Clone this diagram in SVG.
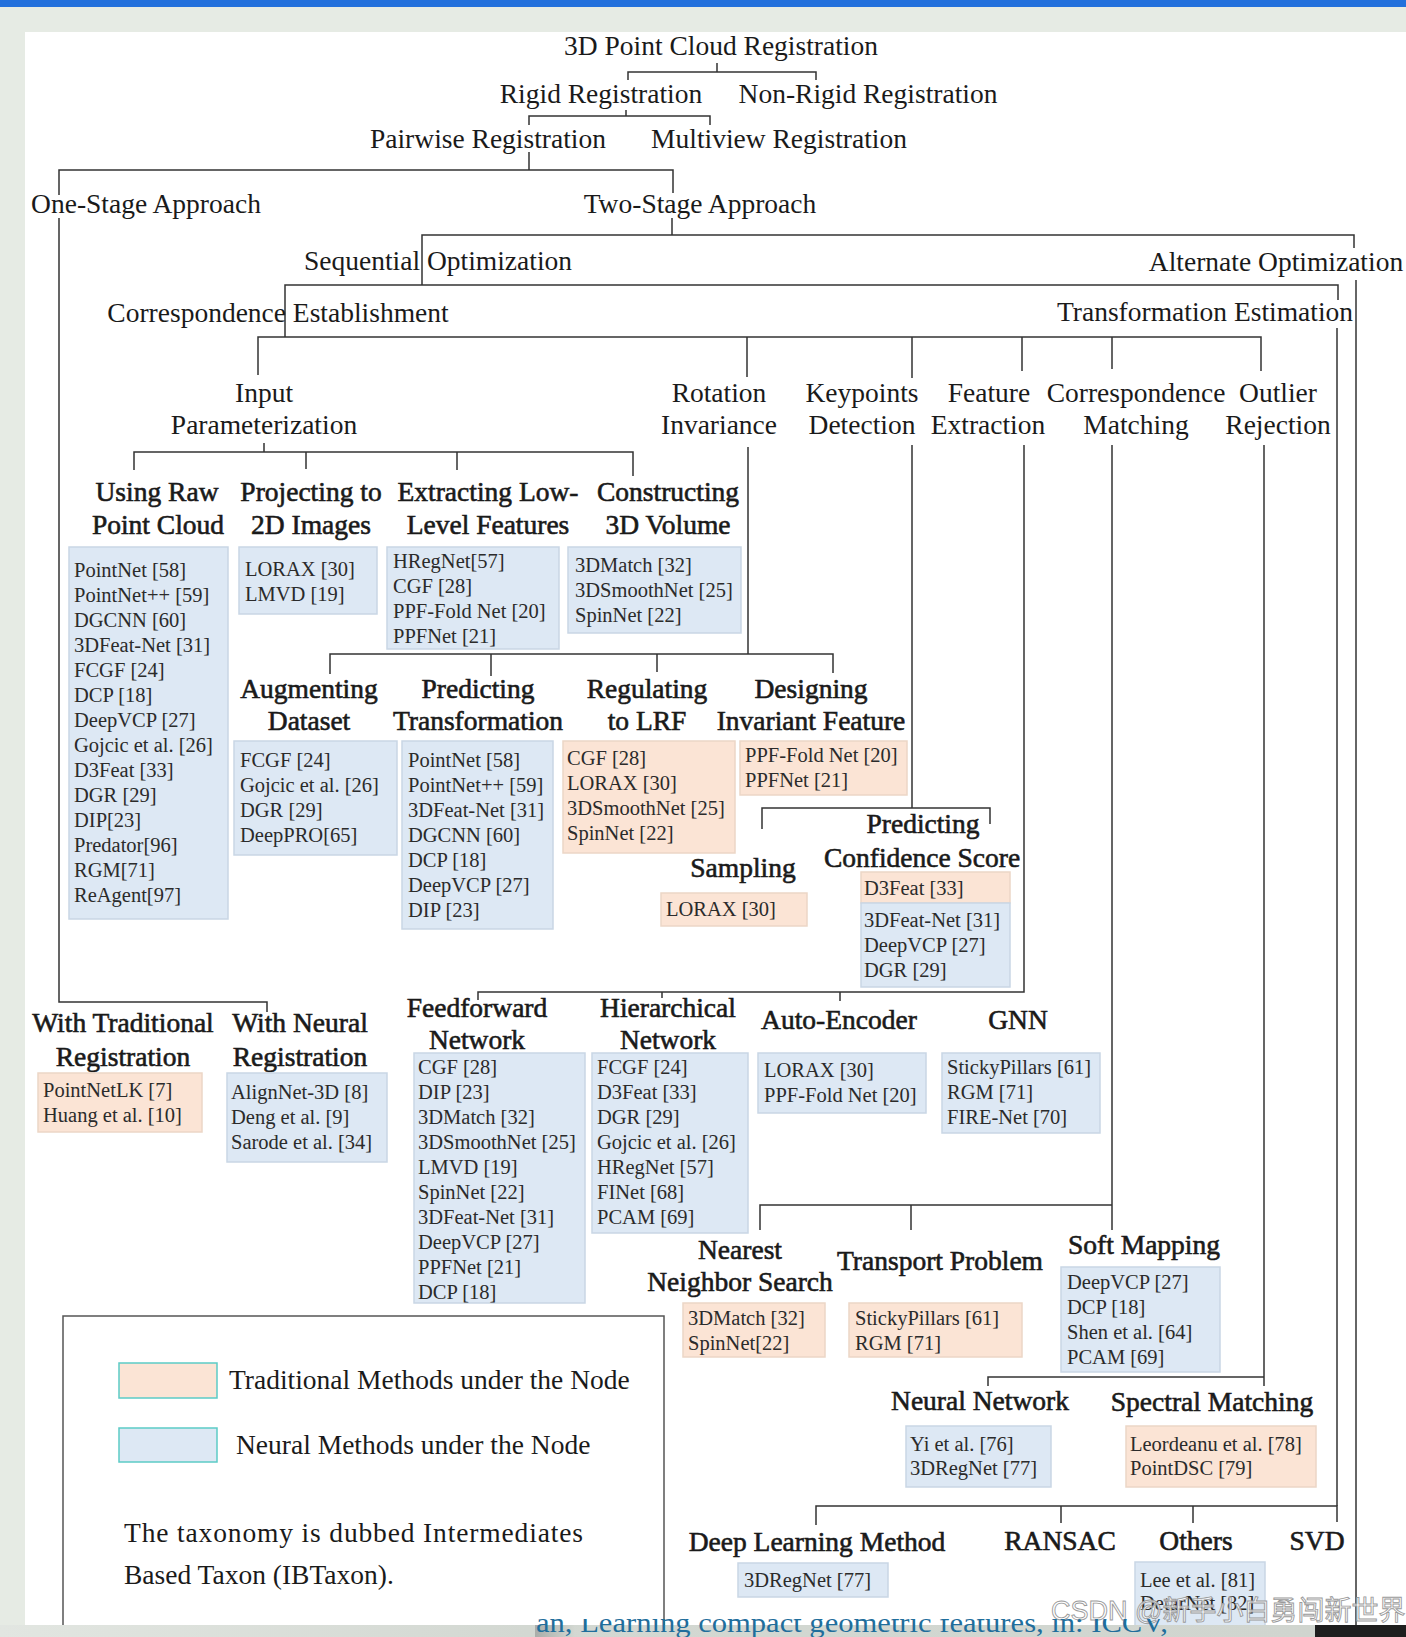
<svg xmlns="http://www.w3.org/2000/svg" width="1406" height="1637" viewBox="0 0 1406 1637">
<style>
.t{font-family:"Liberation Serif","Times New Roman",serif;font-size:27.5px;fill:#1a1a1a;text-anchor:middle}
.b{stroke:#1a1a1a;stroke-width:0.6}
.it{font-family:"Liberation Serif","Times New Roman",serif;font-size:20.5px;fill:#2b2b2b}
.bn{fill:#dde8f4;stroke:#c9d6e5;stroke-width:1.5}
.bt{fill:#fbe4d5;stroke:#ecd6c6;stroke-width:1.5}
.ln{stroke:#333;stroke-width:1.5;fill:none}
.lg{stroke:#555;stroke-width:1.5;fill:none}
</style>
<defs>
<clipPath id="cb"><rect x="0" y="1619" width="1406" height="18"/></clipPath>
<linearGradient id="gb" x1="0" y1="0" x2="1" y2="0"><stop offset="0" stop-color="#e2e6e1"/><stop offset="0.4" stop-color="#d3d8d2"/><stop offset="1" stop-color="#d0d5cf"/></linearGradient>
<linearGradient id="gs" x1="0" y1="0" x2="1" y2="0"><stop offset="0" stop-color="#a9ada9"/><stop offset="1" stop-color="#d3d8d2"/></linearGradient>
</defs>
<rect x="0" y="0" width="1406" height="1637" fill="#e6ebe4"/>
<rect x="0" y="0" width="1406" height="7" fill="#2270dc"/>
<rect x="25" y="32" width="1381" height="1593" fill="#ffffff"/>

<g id="connectors">
<path class="ln" d="M717 63V72M628 80V72H816V80"/>
<path class="ln" d="M626 110V116M529 125V116H710V125"/>
<path class="ln" d="M529 152V170M59 195V170H673V193"/>
<path class="ln" d="M59 218V1002H267V1012"/>
<path class="ln" d="M672 218V235M422 285V235H1354V248"/>
<path class="ln" d="M1356 280V1625"/>
<path class="ln" d="M285 337V285H1338V300"/>
<path class="ln" d="M1337 328V1506"/>
<path class="ln" d="M258 375V337H1261V371M747 337V377M912 337V378M1022 337V371M1112 337V369"/>
<path class="ln" d="M264 443V452M134 470V452H633V476M306 452V469M457 452V470"/>
<path class="ln" d="M748 447V654M330 674V654H833V673M491 654V676M657 654V672"/>
<path class="ln" d="M912 445V808M762 829V808H990V824"/>
<path class="ln" d="M1024 445V992H478V1000M662 992V998M840 992V1001"/>
<path class="ln" d="M1112 445V1230M760 1230V1205H1112M911 1205V1230"/>
<path class="ln" d="M1264 445V1386M988 1386V1377H1264"/>
<path class="ln" d="M816 1525V1506H1337V1522M1061 1506V1523M1193 1506V1523"/>
</g>

<g id="n-root"><text class="t" x="721" y="55">3D Point Cloud Registration</text></g>
<g id="n-rigid"><text class="t" x="601" y="103">Rigid Registration</text></g>
<g id="n-nonrigid"><text class="t" x="868" y="103">Non-Rigid Registration</text></g>
<g id="n-pairwise"><text class="t" x="488" y="148">Pairwise Registration</text></g>
<g id="n-multiview"><text class="t" x="779" y="148">Multiview Registration</text></g>
<g id="n-onestage"><text class="t" x="146" y="213">One-Stage Approach</text></g>
<g id="n-twostage"><text class="t" x="700" y="213">Two-Stage Approach</text></g>
<g id="n-seq"><text class="t" x="438" y="270">Sequential Optimization</text></g>
<g id="n-alt"><text class="t" x="1276" y="271">Alternate Optimization</text></g>
<g id="n-corr"><text class="t" x="278" y="322">Correspondence Establishment</text></g>
<g id="n-trans"><text class="t" x="1205" y="321">Transformation Estimation</text></g>

<g id="n-input"><text class="t" x="264" y="402">Input</text><text class="t" x="264" y="434">Parameterization</text></g>
<g id="n-rot"><text class="t" x="719" y="402">Rotation</text><text class="t" x="719" y="434">Invariance</text></g>
<g id="n-key"><text class="t" x="862" y="402">Keypoints</text><text class="t" x="862" y="434">Detection</text></g>
<g id="n-feat"><text class="t" x="989" y="402">Feature</text><text class="t" x="988" y="434">Extraction</text></g>
<g id="n-cm"><text class="t" x="1136" y="402">Correspondence</text><text class="t" x="1136" y="434">Matching</text></g>
<g id="n-out"><text class="t" x="1278" y="402">Outlier</text><text class="t" x="1278" y="434">Rejection</text></g>

<g id="n-raw"><text class="t b" x="157" y="501">Using Raw</text><text class="t b" x="158" y="534">Point Cloud</text>
<rect class="bn" x="69" y="547" width="159" height="372"/>
<text class="it"><tspan x="74" y="577">PointNet [58]</tspan><tspan x="74" y="602">PointNet++ [59]</tspan><tspan x="74" y="627">DGCNN [60]</tspan><tspan x="74" y="652">3DFeat-Net [31]</tspan><tspan x="74" y="677">FCGF [24]</tspan><tspan x="74" y="702">DCP [18]</tspan><tspan x="74" y="727">DeepVCP [27]</tspan><tspan x="74" y="752">Gojcic et al. [26]</tspan><tspan x="74" y="777">D3Feat [33]</tspan><tspan x="74" y="802">DGR [29]</tspan><tspan x="74" y="827">DIP[23]</tspan><tspan x="74" y="852">Predator[96]</tspan><tspan x="74" y="877">RGM[71]</tspan><tspan x="74" y="902">ReAgent[97]</tspan></text></g>

<g id="n-proj"><text class="t b" x="311" y="501">Projecting to</text><text class="t b" x="311" y="534">2D Images</text>
<rect class="bn" x="239" y="547" width="138" height="67"/>
<text class="it"><tspan x="245" y="576">LORAX [30]</tspan><tspan x="245" y="601">LMVD [19]</tspan></text></g>

<g id="n-extr"><text class="t b" x="488" y="501">Extracting Low-</text><text class="t b" x="488" y="534">Level Features</text>
<rect class="bn" x="387" y="547" width="172" height="102"/>
<text class="it"><tspan x="393" y="568">HRegNet[57]</tspan><tspan x="393" y="593">CGF [28]</tspan><tspan x="393" y="618">PPF-Fold Net [20]</tspan><tspan x="393" y="643">PPFNet [21]</tspan></text></g>

<g id="n-cons"><text class="t b" x="668" y="501">Constructing</text><text class="t b" x="668" y="534">3D Volume</text>
<rect class="bn" x="568" y="547" width="173" height="86"/>
<text class="it"><tspan x="575" y="572">3DMatch [32]</tspan><tspan x="575" y="597">3DSmoothNet [25]</tspan><tspan x="575" y="622">SpinNet [22]</tspan></text></g>

<g id="n-aug"><text class="t b" x="309" y="698">Augmenting</text><text class="t b" x="309" y="730">Dataset</text>
<rect class="bn" x="234" y="741" width="163" height="114"/>
<text class="it"><tspan x="240" y="767">FCGF [24]</tspan><tspan x="240" y="792">Gojcic et al. [26]</tspan><tspan x="240" y="817">DGR [29]</tspan><tspan x="240" y="842">DeepPRO[65]</tspan></text></g>

<g id="n-predt"><text class="t b" x="478" y="698">Predicting</text><text class="t b" x="478" y="730">Transformation</text>
<rect class="bn" x="402" y="741" width="151" height="188"/>
<text class="it"><tspan x="408" y="767">PointNet [58]</tspan><tspan x="408" y="792">PointNet++ [59]</tspan><tspan x="408" y="817">3DFeat-Net [31]</tspan><tspan x="408" y="842">DGCNN [60]</tspan><tspan x="408" y="867">DCP [18]</tspan><tspan x="408" y="892">DeepVCP [27]</tspan><tspan x="408" y="917">DIP [23]</tspan></text></g>

<g id="n-reg"><text class="t b" x="647" y="698">Regulating</text><text class="t b" x="647" y="730">to LRF</text>
<rect class="bt" x="563" y="741" width="172" height="112"/>
<text class="it"><tspan x="567" y="765">CGF [28]</tspan><tspan x="567" y="790">LORAX [30]</tspan><tspan x="567" y="815">3DSmoothNet [25]</tspan><tspan x="567" y="840">SpinNet [22]</tspan></text></g>

<g id="n-design"><text class="t b" x="811" y="698">Designing</text><text class="t b" x="811" y="730">Invariant Feature</text>
<rect class="bt" x="740" y="741" width="167" height="54"/>
<text class="it"><tspan x="745" y="762">PPF-Fold Net [20]</tspan><tspan x="745" y="787">PPFNet [21]</tspan></text></g>

<g id="n-samp"><text class="t b" x="743" y="877">Sampling</text>
<rect class="bt" x="661" y="893" width="146" height="33"/>
<text class="it" x="666" y="916">LORAX [30]</text></g>

<g id="n-conf"><text class="t b" x="923" y="833">Predicting</text><text class="t b" x="922" y="867">Confidence Score</text>
<rect class="bt" x="861" y="872" width="149" height="31"/>
<rect class="bn" x="861" y="903" width="149" height="84"/>
<text class="it" x="864" y="895">D3Feat [33]</text>
<text class="it"><tspan x="864" y="927">3DFeat-Net [31]</tspan><tspan x="864" y="952">DeepVCP [27]</tspan><tspan x="864" y="977">DGR [29]</tspan></text></g>

<g id="n-wtrad"><text class="t b" x="123" y="1032">With Traditional</text><text class="t b" x="123" y="1066">Registration</text>
<rect class="bt" x="38" y="1073" width="164" height="59"/>
<text class="it"><tspan x="43" y="1097">PointNetLK [7]</tspan><tspan x="43" y="1122">Huang et al. [10]</tspan></text></g>

<g id="n-wneur"><text class="t b" x="300" y="1032">With Neural</text><text class="t b" x="300" y="1066">Registration</text>
<rect class="bn" x="227" y="1073" width="160" height="89"/>
<text class="it"><tspan x="231" y="1099">AlignNet-3D [8]</tspan><tspan x="231" y="1124">Deng et al. [9]</tspan><tspan x="231" y="1149">Sarode et al. [34]</tspan></text></g>

<g id="n-ff"><text class="t b" x="477" y="1017">Feedforward</text><text class="t b" x="477" y="1049">Network</text>
<rect class="bn" x="414" y="1053" width="171" height="250"/>
<text class="it"><tspan x="418" y="1074">CGF [28]</tspan><tspan x="418" y="1099">DIP [23]</tspan><tspan x="418" y="1124">3DMatch [32]</tspan><tspan x="418" y="1149">3DSmoothNet [25]</tspan><tspan x="418" y="1174">LMVD [19]</tspan><tspan x="418" y="1199">SpinNet [22]</tspan><tspan x="418" y="1224">3DFeat-Net [31]</tspan><tspan x="418" y="1249">DeepVCP [27]</tspan><tspan x="418" y="1274">PPFNet [21]</tspan><tspan x="418" y="1299">DCP [18]</tspan></text></g>

<g id="n-hier"><text class="t b" x="668" y="1017">Hierarchical</text><text class="t b" x="668" y="1049">Network</text>
<rect class="bn" x="592" y="1053" width="156" height="180"/>
<text class="it"><tspan x="597" y="1074">FCGF [24]</tspan><tspan x="597" y="1099">D3Feat [33]</tspan><tspan x="597" y="1124">DGR [29]</tspan><tspan x="597" y="1149">Gojcic et al. [26]</tspan><tspan x="597" y="1174">HRegNet [57]</tspan><tspan x="597" y="1199">FINet [68]</tspan><tspan x="597" y="1224">PCAM [69]</tspan></text></g>

<g id="n-ae"><text class="t b" x="839" y="1029">Auto-Encoder</text>
<rect class="bn" x="758" y="1053" width="168" height="60"/>
<text class="it"><tspan x="764" y="1077">LORAX [30]</tspan><tspan x="764" y="1102">PPF-Fold Net [20]</tspan></text></g>

<g id="n-gnn"><text class="t b" x="1018" y="1029">GNN</text>
<rect class="bn" x="942" y="1053" width="158" height="80"/>
<text class="it"><tspan x="947" y="1074">StickyPillars [61]</tspan><tspan x="947" y="1099">RGM [71]</tspan><tspan x="947" y="1124">FIRE-Net [70]</tspan></text></g>

<g id="n-nn"><text class="t b" x="740" y="1259">Nearest</text><text class="t b" x="740" y="1291">Neighbor Search</text>
<rect class="bt" x="683" y="1303" width="142" height="54"/>
<text class="it"><tspan x="688" y="1325">3DMatch [32]</tspan><tspan x="688" y="1350">SpinNet[22]</tspan></text></g>

<g id="n-tp"><text class="t b" x="940" y="1270">Transport Problem</text>
<rect class="bt" x="849" y="1303" width="173" height="54"/>
<text class="it"><tspan x="855" y="1325">StickyPillars [61]</tspan><tspan x="855" y="1350">RGM [71]</tspan></text></g>

<g id="n-soft"><text class="t b" x="1144" y="1254">Soft Mapping</text>
<rect class="bn" x="1061" y="1267" width="159" height="105"/>
<text class="it"><tspan x="1067" y="1289">DeepVCP [27]</tspan><tspan x="1067" y="1314">DCP [18]</tspan><tspan x="1067" y="1339">Shen et al. [64]</tspan><tspan x="1067" y="1364">PCAM [69]</tspan></text></g>

<g id="n-neural"><text class="t b" x="980" y="1410">Neural Network</text>
<rect class="bn" x="906" y="1426" width="145" height="61"/>
<text class="it"><tspan x="910" y="1451">Yi et al. [76]</tspan><tspan x="910" y="1475">3DRegNet [77]</tspan></text></g>

<g id="n-spec"><text class="t b" x="1212" y="1411">Spectral Matching</text>
<rect class="bt" x="1126" y="1426" width="190" height="61"/>
<text class="it"><tspan x="1130" y="1451">Leordeanu et al. [78]</tspan><tspan x="1130" y="1475">PointDSC [79]</tspan></text></g>

<g id="n-dl"><text class="t b" x="817" y="1551">Deep Learning Method</text>
<rect class="bn" x="738" y="1563" width="150" height="34"/>
<text class="it" x="744" y="1587">3DRegNet [77]</text></g>
<g id="n-ransac"><text class="t b" x="1060" y="1550">RANSAC</text></g>
<g id="n-others"><text class="t b" x="1196" y="1550">Others</text>
<rect class="bn" x="1135" y="1562" width="130" height="66"/>
<text class="it"><tspan x="1140" y="1587">Lee et al. [81]</tspan><tspan x="1140" y="1610">DetarNet [82]</tspan></text></g>
<g id="n-svd"><text class="t b" x="1317" y="1550">SVD</text></g>

<g id="legend">
<path class="lg" d="M63 1625V1316H664V1625"/>
<rect x="119" y="1363" width="98" height="35" fill="#fbe4d5" stroke="#5ccbc6" stroke-width="1.5"/>
<rect x="119" y="1428" width="98" height="34" fill="#dde8f4" stroke="#5ccbc6" stroke-width="1.5"/>
<text class="t" style="text-anchor:start" x="229" y="1389">Traditional Methods under the Node</text>
<text class="t" style="text-anchor:start" x="236" y="1454">Neural Methods under the Node</text>
<text class="t" style="text-anchor:start" x="124" y="1542" textLength="459" lengthAdjust="spacing">The taxonomy is dubbed Intermediates</text>
<text class="t" style="text-anchor:start" x="124" y="1584">Based Taxon (IBTaxon).</text>
</g>

<text x="1051" y="1620" font-family="'Liberation Sans','Noto Sans CJK SC',sans-serif" font-size="27" fill="#ffffff" fill-opacity="0.75" stroke="#9a9a9a" stroke-width="0.9">CSDN @新手小白勇闯新世界</text>

<rect x="0" y="1625" width="1315" height="12" fill="url(#gb)"/>
<rect x="535" y="1625" width="40" height="12" fill="url(#gs)"/>
<rect x="1315" y="1625" width="91" height="12" fill="#1e1e1e"/>
<text clip-path="url(#cb)" x="536" y="1632" font-family="'Liberation Serif',serif" font-size="28" fill="#1f6e9c" textLength="632" lengthAdjust="spacingAndGlyphs">an, Learning compact geometric features, in: ICCV,</text>
</svg>
